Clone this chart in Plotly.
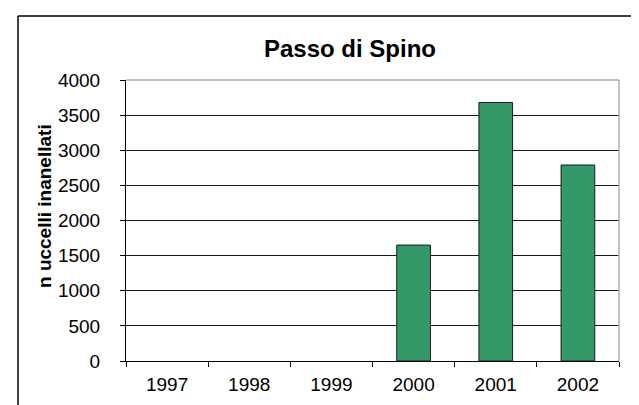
import plotly.graph_objects as go

years = ["1997", "1998", "1999", "2000", "2001", "2002"]
birds = [0, 0, 0, 1650, 3680, 2790]
y_ticks = [0, 500, 1000, 1500, 2000, 2500, 3000, 3500, 4000]

L, R, T, B = 118, 611, 72, 353
W, H = 639, 405

fig = go.Figure(go.Bar(
    x=years, y=birds,
    marker=dict(color="#339966",
                line=dict(color="#1a1a1a", width=[0 if v == 0 else 1 for v in birds])),
    width=0.41,
))

def px_x(p):
    return (p - L) / (R - L)

def px_y(p):
    return (B - p) / (B - T)

FONT = "Liberation Sans, Arial, sans-serif"

fig.update_layout(
    width=W, height=H,
    margin=dict(l=L, r=W - R, t=T, b=H - B, pad=0),
    paper_bgcolor="white", plot_bgcolor="white",
    font=dict(family=FONT, size=19, color="black"),
    title=dict(text="<b>Passo di Spino</b>", x=px_x(342), xref="paper", xanchor="center",
               y=1 - 41 / H, yanchor="middle", font=dict(size=24)),
    showlegend=False,
    xaxis=dict(
        type="category", showline=True, linecolor="black", linewidth=1,
        ticks="outside", ticklen=5, tickcolor="black", tickson="boundaries",
        showgrid=False, tickfont=dict(size=19), ticklabelstandoff=6,
    ),
    yaxis=dict(
        range=[0, 4000], tickvals=y_ticks, showline=True, linecolor="black", linewidth=1,
        ticks="outside", ticklen=5, tickcolor="black",
        showgrid=True, gridcolor="#1a1a1a", gridwidth=1, zeroline=False,
        tickfont=dict(size=19), ticklabelstandoff=16,
    ),
)

fig.add_annotation(text="<b>n uccelli inanellati</b>", textangle=-90,
                   xref="paper", yref="paper", x=px_x(36), y=px_y(198),
                   xanchor="center", yanchor="middle", showarrow=False,
                   font=dict(size=19, family=FONT))

# plot area right edge (light grey) and top gridline grey
fig.add_shape(type="line", xref="paper", yref="paper", x0=1, x1=1, y0=0, y1=1,
              line=dict(color="#b0b0b0", width=1.5))
fig.add_shape(type="line", xref="paper", yref="paper", x0=0, x1=1, y0=1, y1=1,
              line=dict(color="#808080", width=1))
# outer chart border (left and top visible)
fig.add_shape(type="line", xref="paper", yref="paper",
              x0=px_x(10), x1=px_x(10), y0=px_y(8), y1=px_y(405),
              line=dict(color="black", width=1.5))
fig.add_shape(type="line", xref="paper", yref="paper",
              x0=px_x(10), x1=px_x(639), y0=px_y(8), y1=px_y(8),
              line=dict(color="black", width=1.5))

fig.write_html("out.html")
